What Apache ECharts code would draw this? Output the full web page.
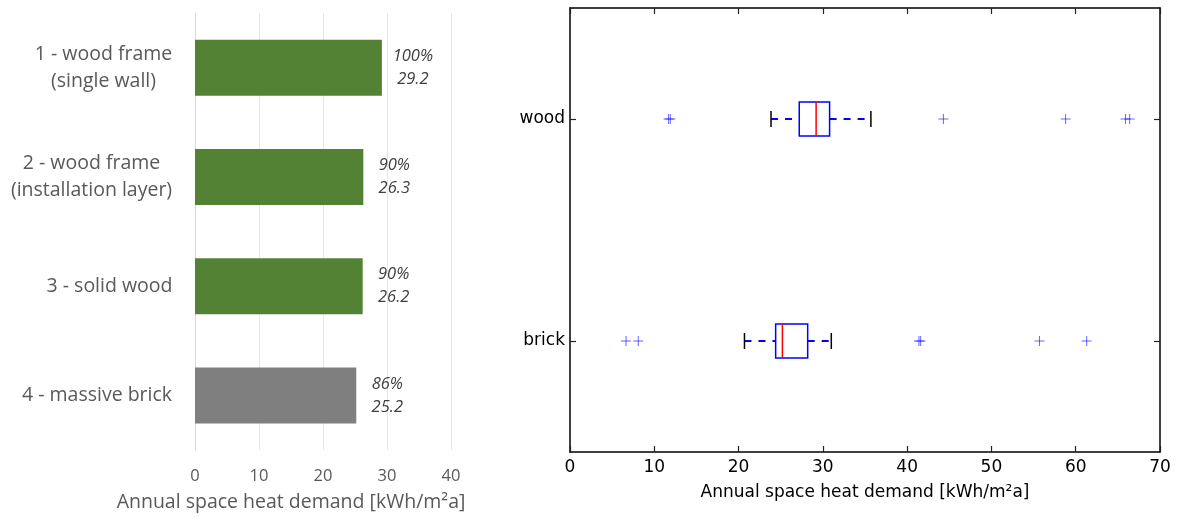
<!DOCTYPE html>
<html>
<head>
<meta charset="utf-8">
<script src="https://cdn.jsdelivr.net/npm/echarts@6/dist/echarts.min.js"></script>
<style>
  html, body { margin: 0; padding: 0; background: #fff; }
  #chart { width: 1177px; height: 517px; }
</style>
</head>
<body>
<div id="chart"></div>
<script>
// left panel: bar chart
const wallTypes = [
  "1 - wood frame\n(single wall)",
  "2 - wood frame\n(installation layer)",
  "3 - solid wood",
  "4 - massive brick",
];
const heatDemand = [29.2, 26.3, 26.2, 25.2];
const shareOfMax = ["100%", "90%", "90%", "86%"];
const barColors = ["#548235", "#548235", "#548235", "#7f7f7f"];

// right panel: box plots (min, q1, median, q3, max)
const boxCategories = ["brick", "wood"];
const brickStats = [20.7, 24.4, 25.2, 28.2, 31.0];
const woodStats = [23.85, 27.2, 29.2, 30.8, 35.7];
const brickOutliers = [6.65, 8.1, 41.4, 41.6, 55.7, 61.3];
const woodOutliers = [11.7, 11.9, 44.3, 58.8, 65.9, 66.4];

const axisName = "Annual space heat demand [kWh/m\u00b2a]";

const catFont = 19.5;
const chart = echarts.init(document.getElementById("chart"));

// width of the longest line of each category label, so lines can be centred
const measureCtx = document.createElement("canvas").getContext("2d");
measureCtx.font = catFont + "px 'Open Sans'";
const catRich = {};
wallTypes.forEach((t, i) => {
  const w = Math.max(...t.split("\n").map((l) => measureCtx.measureText(l).width));
  catRich["c" + i] = {
    width: Math.ceil(w) + 1,
    align: "center",
    fontSize: catFont,
    lineHeight: 27,
    color: "#595959",
    fontFamily: "Open Sans",
  };
});

const boxData = [
  [0].concat(brickStats),
  [1].concat(woodStats),
];
const outlierData = brickOutliers
  .map((v) => [0, v])
  .concat(woodOutliers.map((v) => [1, v]));

function renderBox(params, api) {
  const cat = api.value(0);
  const lo = api.coord([api.value(1), cat]);
  const q1 = api.coord([api.value(2), cat]);
  const med = api.coord([api.value(3), cat]);
  const q3 = api.coord([api.value(4), cat]);
  const hi = api.coord([api.value(5), cat]);
  const y = lo[1];
  const h = 17; // half box height
  const c = 8; // half cap height
  return {
    type: "group",
    children: [
      {
        type: "line",
        shape: { x1: lo[0], y1: y, x2: q1[0], y2: y },
        style: { stroke: "#0000ff", lineWidth: 2, lineDash: [7, 7] },
      },
      {
        type: "line",
        shape: { x1: q3[0], y1: y, x2: hi[0], y2: y },
        style: { stroke: "#0000ff", lineWidth: 2, lineDash: [7, 7] },
      },
      {
        type: "line",
        shape: { x1: lo[0], y1: y - c, x2: lo[0], y2: y + c },
        style: { stroke: "#000", lineWidth: 1.5 },
      },
      {
        type: "line",
        shape: { x1: hi[0], y1: y - c, x2: hi[0], y2: y + c },
        style: { stroke: "#000", lineWidth: 1.5 },
      },
      {
        type: "rect",
        shape: { x: q1[0], y: y - h, width: q3[0] - q1[0], height: 2 * h },
        style: { fill: "#fff", stroke: "#0000ff", lineWidth: 1.5 },
      },
      {
        type: "line",
        shape: { x1: med[0], y1: y - h, x2: med[0], y2: y + h },
        style: { stroke: "#ff0000", lineWidth: 1.5 },
      },
    ],
  };
}

function renderPlus(params, api) {
  const p = api.coord([api.value(1), api.value(0)]);
  const s = 5;
  return {
    type: "group",
    children: [
      {
        type: "line",
        shape: { x1: p[0] - s, y1: p[1], x2: p[0] + s, y2: p[1] },
        style: { stroke: "#0000ff", lineWidth: 1, opacity: 0.6 },
      },
      {
        type: "line",
        shape: { x1: p[0], y1: p[1] - s, x2: p[0], y2: p[1] + s },
        style: { stroke: "#0000ff", lineWidth: 1, opacity: 0.6 },
      },
    ],
  };
}

function frameTick(extra) {
  return Object.assign(
    { show: true, inside: true, length: 6, lineStyle: { color: "#222", width: 1.2 } },
    extra
  );
}
function frameLine() {
  return { show: true, onZero: false, lineStyle: { color: "#000", width: 1.5 } };
}

const option = {
  animation: false,
  textStyle: { fontFamily: "Open Sans" },
  grid: [
    { left: 195, top: 13, width: 256, height: 440 },
    { left: 570, top: 8, width: 590, height: 444 },
  ],
  xAxis: [
    {
      gridIndex: 0,
      type: "value",
      min: 0,
      max: 40,
      interval: 10,
      axisLine: { show: false },
      axisTick: { show: false },
      axisLabel: { color: "#595959", fontSize: 16.5, margin: 18 },
      splitLine: { lineStyle: { color: "#e6e6e6" } },
      name: axisName,
      nameLocation: "middle",
      nameGap: 42,
      nameTextStyle: {
        color: "#595959",
        fontSize: 19.5,
        padding: [0, 64, 0, 0],
      },
    },
    {
      gridIndex: 1,
      type: "value",
      position: "bottom",
      min: 0,
      max: 70,
      interval: 10,
      axisLine: frameLine(),
      axisTick: frameTick(),
      axisLabel: {
        color: "#000",
        fontSize: 17,
        fontFamily: "DejaVu Sans",
        margin: 7,
      },
      splitLine: { show: false },
      name: axisName,
      nameLocation: "middle",
      nameGap: 32,
      nameTextStyle: { color: "#000", fontSize: 17, fontFamily: "DejaVu Sans" },
    },
    {
      gridIndex: 1,
      type: "value",
      position: "top",
      min: 0,
      max: 70,
      interval: 10,
      axisLine: frameLine(),
      axisTick: frameTick(),
      axisLabel: { show: false },
      splitLine: { show: false },
    },
  ],
  yAxis: [
    {
      gridIndex: 0,
      type: "category",
      inverse: true,
      data: wallTypes,
      axisLine: { show: true, lineStyle: { color: "#d9d9d9" } },
      axisTick: { show: false },
      axisLabel: {
        margin: 22,
        formatter: (v, i) =>
          v.split("\n").map((l) => "{c" + i + "|" + l + "}").join("\n"),
        rich: catRich,
      },
    },
    {
      gridIndex: 1,
      type: "category",
      position: "left",
      data: boxCategories,
      axisLine: frameLine(),
      axisTick: frameTick({ alignWithLabel: true }),
      axisLabel: {
        color: "#000",
        fontSize: 17,
        fontFamily: "DejaVu Sans",
        margin: 5,
      },
    },
    {
      gridIndex: 1,
      type: "category",
      position: "right",
      data: boxCategories,
      axisLine: frameLine(),
      axisTick: frameTick({ alignWithLabel: true }),
      axisLabel: { show: false },
    },
  ],
  series: [
    {
      type: "bar",
      xAxisIndex: 0,
      yAxisIndex: 0,
      barWidth: 56,
      data: heatDemand.map((v, i) => ({
        value: v,
        itemStyle: { color: barColors[i] },
      })),
      label: {
        show: true,
        position: "right",
        distance: 8,
        formatter: (p) =>
          "{a|" + shareOfMax[p.dataIndex] + "}\n{a|" + p.value.toFixed(1) + "}",
        rich: {
          a: {
            width: 46,
            align: "center",
            fontSize: 16.5,
            fontStyle: "italic",
            color: "#404040",
            lineHeight: 23,
            fontFamily: "Open Sans",
          },
        },
      },
    },
    {
      type: "custom",
      xAxisIndex: 1,
      yAxisIndex: 1,
      renderItem: renderBox,
      encode: { x: [1, 2, 3, 4, 5], y: 0 },
      data: boxData,
      z: 3,
    },
    {
      type: "custom",
      xAxisIndex: 1,
      yAxisIndex: 1,
      renderItem: renderPlus,
      encode: { x: 1, y: 0 },
      data: outlierData,
      z: 4,
    },
  ],
};

chart.setOption(option);
</script>
</body>
</html>
